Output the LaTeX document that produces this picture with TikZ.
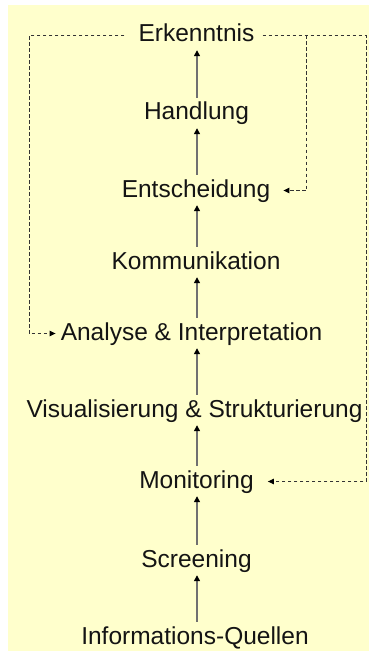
\documentclass[tikz,border=0pt]{standalone}
\usepackage{fontspec}
\setmainfont{Liberation Sans}
\usetikzlibrary{arrows.meta}

\definecolor{bgyellow}{HTML}{FFFFCC}
\definecolor{shaft}{HTML}{707070}

\begin{document}
\begin{tikzpicture}[x=1pt,y=-1pt,
    stage/.style={font=\fontsize{24.5}{29}\selectfont, text=black!92,
        text height=18pt, text depth=5pt, inner xsep=4pt, inner ysep=2pt},
    up/.style={draw=shaft, line width=1.3pt, shorten <=2pt, shorten >=1pt,
        -{Triangle[length=6pt,width=6pt,color=black]}},
    back/.style={draw=black!80, line width=0.9pt, dash pattern=on 3.5pt off 2.5pt,
        -{Triangle[length=6pt,width=5.5pt,color=black]}}]

    % ================= BACKGROUND =================
    \useasboundingbox (0,0) rectangle (369,658);
    \fill[bgyellow] (8,5) rectangle (369,651);

    % ================= STAGES =================
    \node[stage] (erk)  at (196.5,35.5)  {Erkenntnis};
    \node[stage] (hand) at (196.5,113.5) {Handlung};
    \node[stage] (ent)  at (196,190.5)   {Entscheidung};
    \node[stage] (komm) at (196,262.5)   {Kommunikation};
    \node[stage] (ana)  at (191.5,333.5) {Analyse \& Interpretation};
    \node[stage] (vis)  at (194.5,410.5) {Visualisierung \& Strukturierung};
    \node[stage] (mon)  at (196.5,481.5) {Monitoring};
    \node[stage] (scr)  at (196.5,560.5) {Screening};
    \node[stage] (inf)  at (195,637.5)   {Informations-Quellen};

    % column of the upward arrows
    \coordinate (col) at (197,0);

    % Upward chain
    \draw[up] (inf.north -| col)  -- (scr.south -| col);
    \draw[up] (scr.north -| col)  -- (mon.south -| col);
    \draw[up] (mon.north -| col)  -- (vis.south -| col);
    \draw[up] (vis.north -| col)  -- (ana.south -| col);
    \draw[up] (ana.north -| col)  -- (komm.south -| col);
    \draw[up] (komm.north -| col) -- (ent.south -| col);
    \draw[up] (ent.north -| col)  -- (hand.south -| col);
    \draw[up] (hand.north -| col) -- (erk.south -| col);

    % ================= FEEDBACK LOOPS =================
    % left: back to analysis
    \coordinate (lft) at (29,200);
    \draw[back, shorten <=10pt, shorten >=1pt] (erk.west) -| (lft) |- (ana.west);

    % right: back to monitoring
    \coordinate (rgt) at (366,300);
    \draw[back, shorten <=4pt, shorten >=10pt] (erk.east) -| (rgt) |- (mon.east);

    % branch: back to decision
    \path (erk.east) -- ++(48,0) coordinate (br);
    \draw[back, shorten >=9pt] (br) |- (ent.east);

\end{tikzpicture}
\end{document}
